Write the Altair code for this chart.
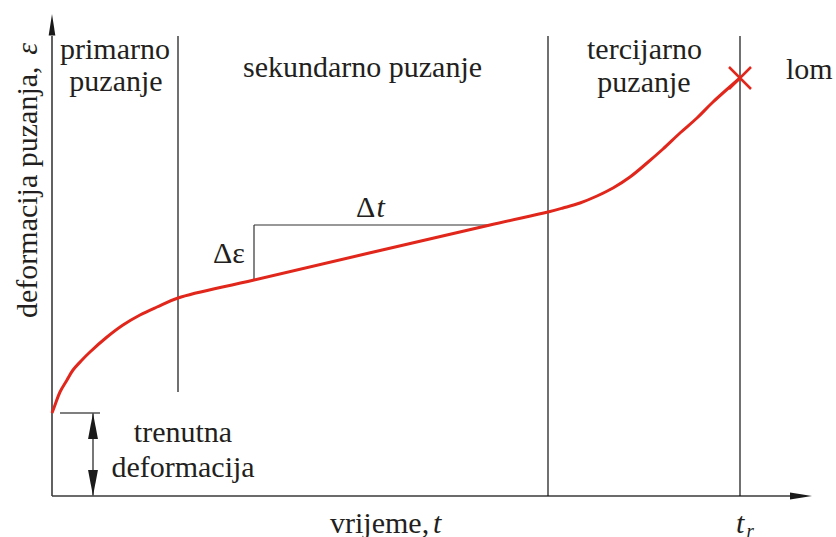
import altair as alt
import pandas as pd

# Creep curve: time t against creep strain eps (arbitrary units)
curve_t = [0.00, 0.03, 0.08, 0.15, 0.21, 0.30, 0.38, 0.55, 0.71, 0.88, 1.05, 1.26,
           2.02, 4.38, 4.96, 5.11, 5.28, 5.45, 5.61, 5.78, 5.95, 6.11, 6.28, 6.45,
           6.61, 6.88]
curve_eps = [0.83, 0.91, 1.04, 1.16, 1.26, 1.36, 1.44, 1.59, 1.71, 1.81, 1.89, 1.98,
             2.16, 2.71, 2.84, 2.88, 2.93, 3.00, 3.08, 3.19, 3.33, 3.47, 3.63, 3.78,
             3.94, 4.18]

# Stage boundaries and characteristic values
eps_initial = 0.83            # instantaneous strain
t_primary_end = 1.26
t_secondary_end = 4.96
t_rupture = 6.88
eps_rupture = 4.18
stage_line_top = 4.60
primary_line_bottom = 1.04

# Slope triangle on the secondary (steady-state) part
tri_t = [2.02, 4.38]
tri_eps = [2.16, 2.71]

# Axis extents
x_axis_end, x_arrow_tip = 7.38, 7.60
y_axis_end, y_arrow_tip = 4.60, 4.82

RED = "#e1261c"
INK = "#231f20"
AXIS = "#3a3a3a"
FONT = "serif"

xs = alt.Scale(domain=[-0.52, 7.84], nice=False, zero=False)
ys = alt.Scale(domain=[-0.41, 4.96], nice=False, zero=False)


def X(f, **kw):
    return alt.X(f"{f}:Q", scale=xs, axis=None, **kw)


def Y(f, **kw):
    return alt.Y(f"{f}:Q", scale=ys, axis=None, **kw)


curve = alt.Chart(pd.DataFrame({"t": curve_t, "eps": curve_eps})).mark_line(
    color=RED, strokeWidth=3, interpolate="catmull-rom"
).encode(x=X("t"), y=Y("eps"), order="t:Q")

# rupture marker
rupture = alt.Chart(pd.DataFrame({"t": [t_rupture], "eps": [eps_rupture]})).mark_point(
    shape="M-1,-1L1,1M-1,1L1,-1", size=484, filled=False, color=RED,
    strokeWidth=2.5, opacity=1
).encode(x=X("t"), y=Y("eps"))

# vertical stage separators
stages = alt.Chart(pd.DataFrame({
    "t": [t_primary_end, t_secondary_end, t_rupture],
    "e0": [primary_line_bottom, 0.0, 0.0],
    "e1": [stage_line_top] * 3,
})).mark_rule(color="#111111", strokeWidth=1.2).encode(
    x=X("t"), y=Y("e0"), y2="e1:Q")

# coordinate axes
axes = alt.Chart(pd.DataFrame({
    "t0": [0.0, 0.0], "t1": [x_axis_end, 0.0],
    "e0": [0.0, 0.0], "e1": [0.0, y_axis_end],
})).mark_rule(color=AXIS, strokeWidth=1.6).encode(
    x=X("t0"), x2="t1:Q", y=Y("e0"), y2="e1:Q")

y_arrow = alt.Chart(pd.DataFrame({"t": [0.0], "eps": [y_arrow_tip]})).mark_point(
    shape="M0,0L0.31,2L-0.31,2Z", size=458, filled=True, color="#1a1a1a", opacity=1
).encode(x=X("t"), y=Y("eps"))

x_arrow = alt.Chart(pd.DataFrame({"t": [x_arrow_tip], "eps": [0.0]})).mark_point(
    shape="M0,0L-2,-0.32L-2,0.32Z", size=484, filled=True, color="#1a1a1a", opacity=1
).encode(x=X("t"), y=Y("eps"))

# slope triangle (delta eps / delta t)
tri = alt.Chart(pd.DataFrame({
    "t0": [tri_t[0], tri_t[0]], "t1": [tri_t[0], tri_t[1]],
    "e0": [tri_eps[0], tri_eps[1]], "e1": [tri_eps[1], tri_eps[1]],
})).mark_rule(color="#333333", strokeWidth=1.2).encode(
    x=X("t0"), x2="t1:Q", y=Y("e0"), y2="e1:Q")

# instantaneous strain dimension
inst_tick = alt.Chart(pd.DataFrame({"t0": [0.08], "t1": [0.48], "e": [eps_initial]})).mark_rule(
    color="#555555", strokeWidth=1.6).encode(x=X("t0"), x2="t1:Q", y=Y("e"))
inst_line = alt.Chart(pd.DataFrame({"t": [0.41], "e0": [0.0], "e1": [eps_initial]})).mark_rule(
    color="#555555", strokeWidth=1.6).encode(x=X("t"), y=Y("e0"), y2="e1:Q")
inst_up = alt.Chart(pd.DataFrame({"t": [0.41], "eps": [eps_initial]})).mark_point(
    shape="M0,0L0.38,2L-0.38,2Z", size=676, filled=True, color="#1a1a1a", opacity=1
).encode(x=X("t"), y=Y("eps"))
inst_down = alt.Chart(pd.DataFrame({"t": [0.41], "eps": [0.0]})).mark_point(
    shape="M0,0L0.38,-2L-0.38,-2Z", size=676, filled=True, color="#1a1a1a", opacity=1
).encode(x=X("t"), y=Y("eps"))

# text annotations
centered = pd.DataFrame([
    {"label": "primarno", "t": 0.63, "eps": 4.37},
    {"label": "puzanje", "t": 0.64, "eps": 4.05},
    {"label": "sekundarno puzanje", "t": 3.105, "eps": 4.19},
    {"label": "tercijarno", "t": 5.925, "eps": 4.37},
    {"label": "puzanje", "t": 5.92, "eps": 4.04},
    {"label": "trenutna", "t": 1.31, "eps": 0.54},
    {"label": "deformacija", "t": 1.31, "eps": 0.19},
])
left_upright = pd.DataFrame([
    {"label": "lom", "t": 7.34, "eps": 4.17},
    {"label": "Δ", "t": 3.04, "eps": 2.79},
    {"label": "Δε", "t": 1.61, "eps": 2.33},
    {"label": "vrijeme,", "t": 2.78, "eps": -0.37},
])
left_italic = pd.DataFrame([
    {"label": "t", "t": 3.245, "eps": 2.79},
    {"label": "t", "t": 3.81, "eps": -0.37},
    {"label": "t", "t": 6.84, "eps": -0.37},
])


def text_layer(df, align, italic=False, size=30):
    kw = {"fontStyle": "italic"} if italic else {}
    return alt.Chart(df).mark_text(
        font=FONT, fontSize=size, color=INK, align=align, baseline="alphabetic", **kw
    ).encode(x=X("t"), y=Y("eps"), text="label:N")


labels_c = text_layer(centered, "center")
labels_l = text_layer(left_upright, "left")
labels_i = text_layer(left_italic, "left", True)
sub_r = text_layer(pd.DataFrame([{"label": "r", "t": 6.945, "eps": -0.405}]), "left", True, 19)

# rotated y-axis title
ytitle = alt.Chart(pd.DataFrame([{"label": "deformacija puzanja,", "t": -0.15, "eps": 1.78}])).mark_text(
    font=FONT, fontSize=30, color=INK, align="left", baseline="alphabetic", angle=270
).encode(x=X("t"), y=Y("eps"), text="label:N")
ytitle_eps = alt.Chart(pd.DataFrame([{"label": "ε", "t": -0.15, "eps": 4.53}])).mark_text(
    font=FONT, fontSize=30, fontStyle="italic", color=INK, align="right",
    baseline="alphabetic", angle=270
).encode(x=X("t"), y=Y("eps"), text="label:N")

chart = alt.layer(
    axes, stages, tri, inst_tick, inst_line, inst_up, inst_down,
    y_arrow, x_arrow, curve, rupture,
    labels_c, labels_l, labels_i, sub_r, ytitle, ytitle_eps,
).properties(
    width=836, height=537, padding=0, autosize="none", background="white"
).configure_view(stroke=None)

chart.save("out.html", embed_options={"renderer": "svg", "actions": False})
